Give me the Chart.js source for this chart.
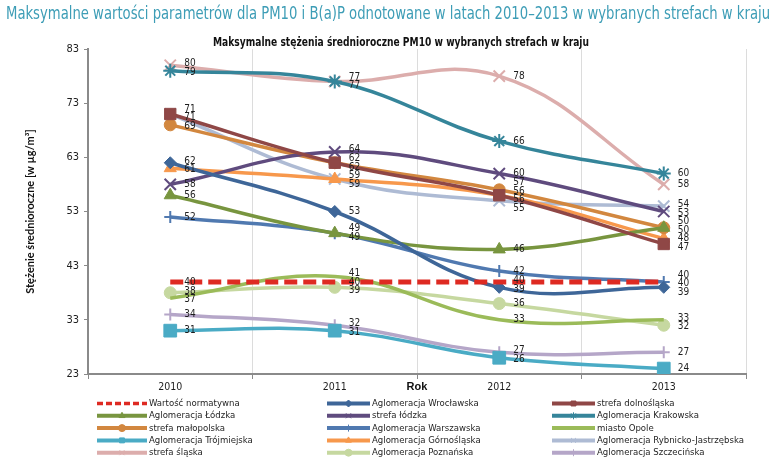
<!DOCTYPE html>
<html lang="pl">
<head>
<meta charset="utf-8">
<title>Maksymalne stężenia średnioroczne PM10</title>
<script src="https://cdn.jsdelivr.net/npm/chart.js@4.4.1/dist/chart.umd.min.js"></script>
<style>
  html, body { margin: 0; padding: 0; background: #fff; }
  #wrap { width: 777px; height: 474px; }
</style>
</head>
<body>
<div id="wrap"><canvas id="pm10Chart" width="777" height="474"></canvas></div>
<script>
// --- DATA ---
const years = ['2010', '2011', '2012', '2013'];
const yTicks = [23, 33, 43, 53, 63, 73, 83];

const normatywna   = [40, 40, 40, 40];
const wroclawska   = [62, 53, 39, 39];
const dolnoslaska  = [71, 62, 56, 47];
const lodzkaAglo   = [56, 49, 46, 50];
const lodzkaStrefa = [58, 64, 60, 53];
const krakowska    = [79, 77, 66, 60];
const malopolska   = [69, 62, 57, 50];
const warszawska   = [52, 49, 42, 40];
const opole        = [37, 41, 33, 33];
const trojmiejska  = [31, 31, 26, 24];
const gornoslaska  = [61, 59, 56, 48];
const rybnicka     = [71, 59, 55, 54];
const slaska       = [80, 77, 78, 58];
const poznanska    = [38, 39, 36, 32];
const szczecinska  = [34, 32, 27, 27];

// --- SERIES (legend order) ---
const series = [
  { name: 'Wartość normatywna',               data: normatywna,   color: '#de2a22', shape: false,      r: 0 },
  { name: 'Aglomeracja Wrocławska',           data: wroclawska,   color: '#3e6698', shape: 'rectRot',  r: 6 },
  { name: 'strefa dolnośląska',               data: dolnoslaska,  color: '#8f4746', shape: 'rect',     r: 8 },
  { name: 'Aglomeracja Łódzka',               data: lodzkaAglo,   color: '#78953f', shape: 'triangle', r: 7 },
  { name: 'strefa łódzka',                    data: lodzkaStrefa, color: '#5f4b7e', shape: 'crossRot', r: 8 },
  { name: 'Aglomeracja Krakowska',            data: krakowska,    color: '#35859a', shape: 'star',     r: 7 },
  { name: 'strefa małopolska',                data: malopolska,   color: '#d2873f', shape: 'circle',   r: 6 },
  { name: 'Aglomeracja Warszawska',           data: warszawska,   color: '#5079b0', shape: 'cross',    r: 6 },
  { name: 'miasto Opole',                     data: opole,        color: '#9bbb59', shape: false,      r: 0 },
  { name: 'Aglomeracja Trójmiejska',          data: trojmiejska,  color: '#4aabc5', shape: 'rect',     r: 9 },
  { name: 'Aglomeracja Górnośląska',          data: gornoslaska,  color: '#f7984c', shape: 'triangle', r: 7 },
  { name: 'Aglomeracja Rybnicko-Jastrzębska', data: rybnicka,     color: '#aebbd4', shape: 'crossRot', r: 8 },
  { name: 'strefa śląska',                    data: slaska,       color: '#dcadac', shape: 'crossRot', r: 8 },
  { name: 'Aglomeracja Poznańska',            data: poznanska,    color: '#c6d8a0', shape: 'circle',   r: 6 },
  { name: 'Aglomeracja Szczecińska',          data: szczecinska,  color: '#b5a6c8', shape: 'cross',    r: 6 }
];

const NARROW = '"Liberation Sans Narrow", "Arial Narrow", "DejaVu Sans Condensed", sans-serif';

// spread labels of one column so they don't overlap
function spreadLabels(items, gap) {
  items.sort((a, b) => a.y - b.y);
  items.forEach(it => { it.ly = it.y; });
  for (let iter = 0; iter < 80; iter++) {
    let moved = false;
    for (let k = 1; k < items.length; k++) {
      const d = items[k].ly - items[k - 1].ly;
      if (d < gap - 0.01) {
        const push = (gap - d) / 2;
        items[k - 1].ly -= push;
        items[k].ly += push;
        moved = true;
      }
    }
    if (!moved) break;
  }
}

// text squeezed horizontally to a target width, keeping the glyph height
function drawSqueezed(ctx, text, font, cx, cy, target, align) {
  ctx.font = font;
  const w = ctx.measureText(text).width;
  const k = Math.min(1.3, target / w);
  ctx.save();
  ctx.translate(cx, cy);
  ctx.scale(k, 1);
  ctx.textAlign = align;
  ctx.fillText(text, 0, 0);
  ctx.restore();
}

// --- TITLES + VALUE LABELS + LEGEND ---
const decorations = {
  id: 'decorations',
  afterDatasetsDraw(chart) {
    const ctx = chart.ctx;
    ctx.save();
    ctx.font = '10px ' + NARROW;
    ctx.fillStyle = '#1e1e1e';
    ctx.textBaseline = 'middle';
    ctx.textAlign = 'left';
    years.forEach((yr, i) => {
      const items = [];
      chart.data.datasets.forEach((ds, d) => {
        const el = chart.getDatasetMeta(d).data[i];
        items.push({ x: el.x, y: el.y, text: String(ds.data[i]) });
      });
      spreadLabels(items, 8.6);
      items.forEach(it => ctx.fillText(it.text, it.x + 14, it.ly));
    });
    ctx.restore();
  },
  afterDraw(chart) {
    const ctx = chart.ctx;
    ctx.save();

    // page title
    const pageTitle = 'Maksymalne wartości parametrów dla PM10 i B(a)P odnotowane w latach 2010–2013 w wybranych strefach w kraju';
    ctx.fillStyle = '#3d9db6';
    ctx.textBaseline = 'alphabetic';
    drawSqueezed(ctx, pageTitle, '18px ' + NARROW, 6, 19, 764, 'left');

    // chart title
    const chartTitle = 'Maksymalne stężenia średnioroczne PM10 w wybranych strefach w kraju';
    ctx.fillStyle = '#111';
    ctx.textBaseline = 'middle';
    drawSqueezed(ctx, chartTitle, 'bold 12px ' + NARROW, 401, 43, 376, 'center');

    // legend: 3 columns, row-major
    const colX = [97, 327, 552];
    const sampleW = [50, 43, 43];
    ctx.font = '9.5px ' + NARROW;
    ctx.textAlign = 'left';
    chart.data.datasets.forEach((ds, i) => {
      const s = series[i];
      const col = i % 3, row = Math.floor(i / 3);
      const x0 = colX[col], x1 = x0 + sampleW[col];
      const y = 403.5 + row * 12.3;
      ctx.strokeStyle = s.color;
      ctx.lineWidth = i === 0 ? 3.5 : 4;
      ctx.setLineDash(i === 0 ? [6, 3] : []);
      ctx.beginPath();
      ctx.moveTo(x0, y);
      ctx.lineTo(x1, y);
      ctx.stroke();
      ctx.setLineDash([]);
      if (s.shape && Chart.helpers && Chart.helpers.drawPoint) {
        ctx.fillStyle = s.color;
        ctx.lineWidth = 1;
        Chart.helpers.drawPoint(ctx, { pointStyle: s.shape, radius: Math.min(3.5, s.r / 2 + 0.5), rotation: 0, borderWidth: 1 }, (x0 + x1) / 2, y);
      }
      ctx.fillStyle = '#1e1e1e';
      ctx.textBaseline = 'middle';
      ctx.fillText(s.name, x1 + 2, y);
    });
    ctx.restore();
  }
};

const datasets = series.map((s, i) => ({
  label: s.name,
  data: s.data,
  borderColor: s.color,
  backgroundColor: s.color,
  borderWidth: i === 0 ? 5 : 3.5,
  borderDash: i === 0 ? [13, 6] : [],
  tension: i === 0 ? 0 : 0.4,
  pointStyle: s.shape || 'circle',
  pointRadius: s.r,
  pointHoverRadius: s.r,
  pointBorderWidth: (s.shape === 'crossRot' || s.shape === 'star' || s.shape === 'cross') ? 2 : 1,
  pointBackgroundColor: s.color,
  pointBorderColor: s.color,
  fill: false
}));

new Chart(document.getElementById('pm10Chart'), {
  type: 'line',
  data: { labels: years, datasets: datasets },
  options: {
    responsive: false,
    animation: false,
    layout: { padding: { top: 49, left: 0, right: 31, bottom: 80 } },
    plugins: {
      legend: { display: false },
      title: { display: false },
      tooltip: { enabled: false }
    },
    scales: {
      x: {
        type: 'category',
        offset: true,
        afterFit: s => { s.height = 20; },
        border: { color: '#8a8a8a', width: 2 },
        grid: { offset: true, color: '#dcdcdc', lineWidth: 1, drawTicks: true, tickLength: 5, tickColor: '#8a8a8a' },
        ticks: { padding: 2, color: '#1e1e1e', font: { family: NARROW, size: 10.5 } },
        title: { display: true, text: 'Rok', color: '#111', padding: 0, font: { family: 'Liberation Sans, Arial, sans-serif', weight: 'bold', size: 11 } }
      },
      y: {
        min: 23,
        max: 83,
        afterBuildTicks: s => { s.ticks = yTicks.map(v => ({ value: v })); },
        afterFit: s => { s.width = 88; },
        border: { color: '#8a8a8a', width: 2 },
        grid: { drawOnChartArea: false, drawTicks: true, tickLength: 4, color: '#8a8a8a' },
        ticks: { padding: 5, color: '#1e1e1e', font: { family: NARROW, size: 11 } },
        title: {
          display: true,
          text: 'Stężenie średnioroczne [w µg/m³]',
          color: '#111',
          padding: { top: 24, bottom: 0 },
          font: { family: 'Lato, "Open Sans", sans-serif', weight: 'bold', size: 11 }
        }
      }
    }
  },
  plugins: [decorations]
});
</script>
</body>
</html>
